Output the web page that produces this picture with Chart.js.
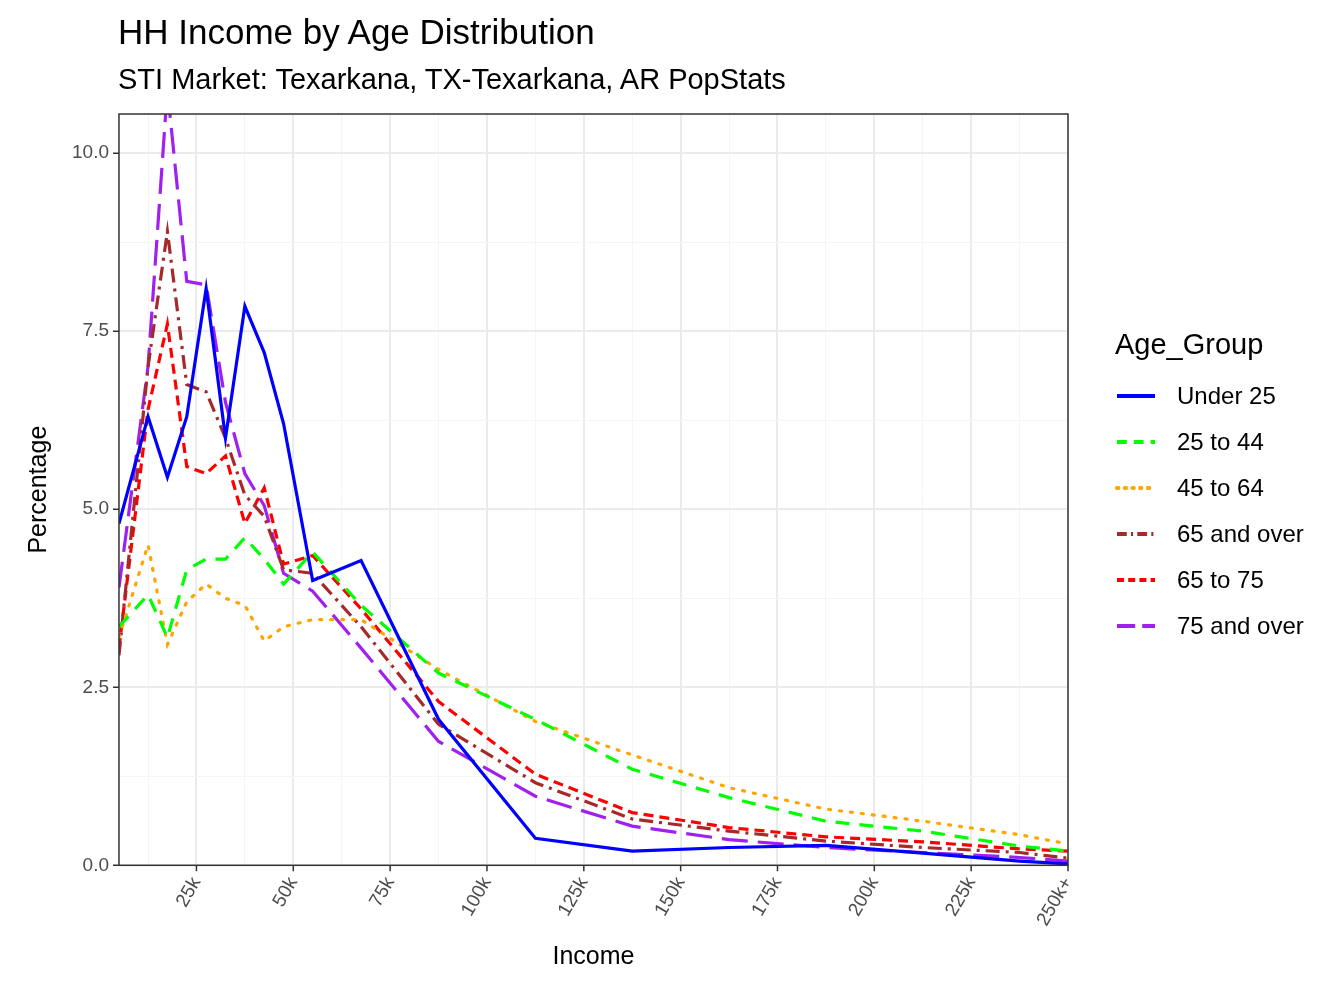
<!DOCTYPE html>
<html><head><meta charset="utf-8">
<script src="https://cdn.jsdelivr.net/npm/chart.js@4.4.1/dist/chart.umd.min.js"></script>
<style>
body{margin:0;background:#fff;font-family:Arial,"Liberation Sans",sans-serif;}
#wrap{position:relative;width:1344px;height:1008px;}
#t1{position:absolute;left:118px;top:12px;font-size:35px;color:#000;}
#t2{position:absolute;left:118px;top:63px;font-size:29px;color:#000;}
#leg{position:absolute;left:1115px;top:328px;font-size:24px;color:#000;}
#leg .ttl{font-size:29px;margin-bottom:12px;}
#leg .row{display:flex;align-items:center;height:46px;}
#leg svg{margin-right:20px;}
</style></head><body>
<div id="wrap"><canvas id="c" width="1344" height="1008"></canvas>
<div id="t1">HH Income by Age Distribution</div>
<div id="t2">STI Market: Texarkana, TX-Texarkana, AR PopStats</div>
<div id="leg"></div></div>
<script>
const incomeK = [5,12.5,17.5,22.5,27.5,32.5,37.5,42.5,47.5,55,67.5,87.5,112.5,137.5,162.5,187.5,212.5,237.5,250];
const under25 = [4.8,6.3,5.45,6.3,8.1,6.0,7.85,7.2,6.2,4.0,4.28,2.05,0.38,0.2,0.25,0.28,0.17,0.06,0.02];
const age25to44 = [3.35,3.8,3.2,4.15,4.3,4.3,4.6,4.3,3.95,4.4,3.65,2.7,2.05,1.35,0.95,0.62,0.48,0.27,0.2];
const age45to64 = [3.2,4.5,3.1,3.7,3.95,3.75,3.65,3.15,3.35,3.45,3.45,2.75,2.02,1.55,1.09,0.79,0.62,0.43,0.3];
const age65over = [2.95,7.0,8.9,6.75,6.65,6.0,5.2,4.9,4.15,4.1,3.35,1.98,1.16,0.65,0.48,0.34,0.25,0.18,0.1];
const age65to75 = [3.05,6.4,7.6,5.6,5.5,5.75,4.8,5.3,4.23,4.35,3.6,2.3,1.28,0.74,0.53,0.4,0.33,0.23,0.2];
const age75over = [3.9,7.0,10.9,8.2,8.15,6.5,5.5,5.05,4.1,3.85,3.05,1.74,0.97,0.55,0.36,0.25,0.18,0.11,0.06];
const xTickVals = [25,50,75,100,125,150,175,200,225,250];
const xTickLabels = ["25k","50k","75k","100k","125k","150k","175k","200k","225k","250k+"];
const yTickVals = [0,2.5,5,7.5,10];
const yTickLabels = ["0.0","2.5","5.0","7.5","10.0"];
const seriesNames = ["Under 25","25 to 44","45 to 64","65 and over","65 to 75","75 and over"];
const seriesData = [under25,age25to44,age45to64,age65over,age65to75,age75over];
const colors = ["#0000ff","#00ff00","#ffa500","#a52a2a","#ff0000","#a020f0"];
const dashes = [[],[14,10],[2,9],[14,6,3,6],[10,6],[26,10]];

const datasets = seriesNames.map((n,i)=>({label:n,data:incomeK.map((x,j)=>({x:x,y:seriesData[i][j]})),
  borderColor:colors[i],borderDash:dashes[i],borderWidth:3.2,pointRadius:0,fill:false,tension:0,
  borderCapStyle:i==2?'round':'butt'}));

const frame={id:'frame',afterDraw(ch){const a=ch.chartArea,c=ch.ctx;c.save();c.strokeStyle='#333';c.lineWidth=1.5;
  c.strokeRect(a.left,a.top,a.right-a.left,a.bottom-a.top);
  const xs=ch.scales.x,ys=ch.scales.y;c.beginPath();
  xTickVals.forEach(v=>{const p=xs.getPixelForValue(v);c.moveTo(p,a.bottom);c.lineTo(p,a.bottom+6);});
  yTickVals.forEach(v=>{const p=ys.getPixelForValue(v);c.moveTo(a.left,p);c.lineTo(a.left-6,p);});
  c.stroke();c.restore();}};

const minorX=[];for(let v=12.5;v<=250;v+=12.5)minorX.push(v);
new Chart(document.getElementById('c'),{type:'line',data:{datasets},plugins:[frame],
 options:{responsive:false,animation:false,
  layout:{padding:{top:114,right:276,left:20,bottom:32}},
  plugins:{legend:{display:false},tooltip:{enabled:false}},
  scales:{
   x:{type:'linear',min:5,max:250,
     afterBuildTicks(s){s.ticks=minorX.map(v=>({value:v}));},
     grid:{color:c=>(c.tick&&c.tick.value%25===0)?'#ebebeb':'#f5f5f5',lineWidth:c=>(c.tick&&c.tick.value%25===0)?2:1,drawTicks:false},
     border:{display:false},
     ticks:{autoSkip:false,minRotation:60,maxRotation:60,padding:8,color:'#4d4d4d',font:{size:19,family:'Arial'},
       callback:v=>{const k=xTickVals.indexOf(v);return k>=0?xTickLabels[k]:'';}},
     title:{display:true,text:'Income',color:'#000',font:{size:25,family:'Arial'},padding:{top:4}}},
   y:{min:0,max:10.55,
     afterBuildTicks(s){const t=[];for(let v=0;v<=10;v+=1.25)t.push({value:v});s.ticks=t;},
     grid:{color:c=>(c.tick&&Math.abs(c.tick.value/2.5-Math.round(c.tick.value/2.5))<1e-6)?'#ebebeb':'#f5f5f5',
       lineWidth:c=>(c.tick&&Math.abs(c.tick.value/2.5-Math.round(c.tick.value/2.5))<1e-6)?2:1,drawTicks:false},
     border:{display:false},
     ticks:{autoSkip:false,padding:10,color:'#4d4d4d',font:{size:19,family:'Arial'},
       callback:v=>{const k=yTickVals.findIndex(t=>Math.abs(t-v)<1e-6);return k>=0?yTickLabels[k]:'';}},
     title:{display:true,text:'Percentage',color:'#000',font:{size:25,family:'Arial'},padding:{bottom:8}}}
  }}});

const leg=document.getElementById('leg');
leg.innerHTML='<div class="ttl">Age_Group</div>'+seriesNames.map((n,i)=>
 `<div class="row"><svg width="42" height="10"><line x1="2" y1="5" x2="40" y2="5" stroke="${colors[i]}" stroke-width="4" stroke-dasharray="${dashes[i].length?dashes[i].map(d=>d*0.7).join(' '):'none'}" stroke-linecap="${i==2?'round':'butt'}"/></svg><span>${n}</span></div>`).join('');
</script></body></html>
